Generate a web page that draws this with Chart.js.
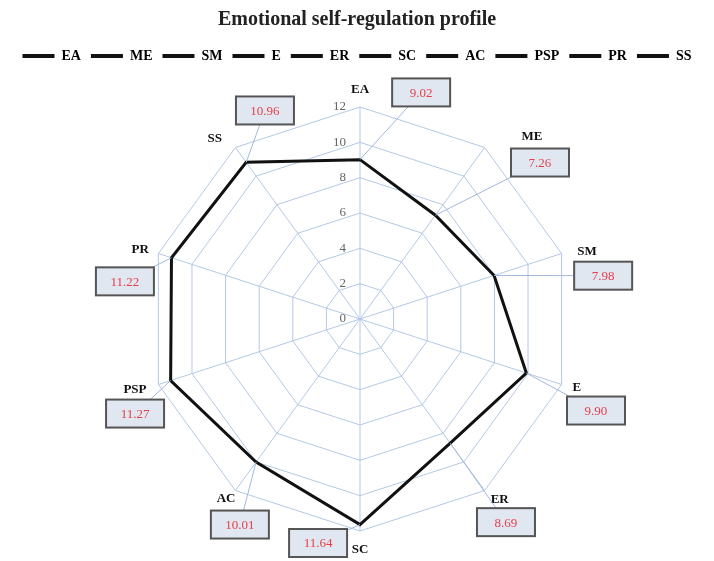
<!DOCTYPE html>
<html lang="en">
<head>
  <meta charset="UTF-8">
  <title>Emotional self-regulation profile</title>
  <script src="https://cdn.jsdelivr.net/npm/chart.js"></script>
  <style>
    body {
      margin: 0;
      padding: 0;
      background: #fff;
    }
  </style>
</head>
<body>
  <canvas id="profileChart" width="714" height="561"></canvas>

  <script>
    // Subscales and scores
    const categories = ["EA", "ME", "SM", "E", "ER", "SC", "AC", "PSP", "PR", "SS"];
    const scores = [9.02, 7.26, 7.98, 9.90, 8.69, 11.64, 10.01, 11.27, 11.22, 10.96];
    const tickValues = [0, 2, 4, 6, 8, 10, 12];

    const serif = "'Liberation Serif', 'DejaVu Serif', serif";
    const gridBlue = "#b3c8e6";

    // Axis names: angle tweak (deg) and distance relative to outer ring
    const nameAngle = [0, 7, 1, -1, -2, 0, 1, 1, 0, -2.5];
    const nameDist = [1.09, 1.19, 1.12, 1.07, 1.07, 1.08, 1.05, 1.11, 1.09, 1.10];
    // Value boxes: same idea
    const boxAngle = [15.1, 13, 7.9, 3.2, 0.3, 10.6, -5.7, -4.8, -8.9, 11.5];
    const boxDist = [1.107, 1.125, 1.165, 1.194, 1.18, 1.075, 1.123, 1.151, 1.123, 1.081];

    function polar(scale, i, tweakDeg, dist) {
      const a = scale.getIndexAngle(i) - Math.PI / 2 + tweakDeg * Math.PI / 180;
      const d = scale.drawingArea * dist;
      return { x: scale.xCenter + Math.cos(a) * d, y: scale.yCenter + Math.sin(a) * d };
    }

    const calloutPlugin = {
      id: "callouts",
      beforeDatasetsDraw(chart) {
        const scale = chart.scales.r;
        const ctx = chart.ctx;
        ctx.save();
        // tick labels sit left of the vertical axis
        ctx.font = "13px " + serif;
        ctx.fillStyle = "#666";
        ctx.textAlign = "right";
        ctx.textBaseline = "middle";
        tickValues.forEach((v) => {
          const d = scale.getDistanceFromCenterForValue(v);
          ctx.fillText(String(v), scale.xCenter - 14, scale.yCenter - d);
        });
        // axis names
        ctx.font = "bold 13px " + serif;
        ctx.fillStyle = "#111";
        ctx.textAlign = "center";
        categories.forEach((c, i) => {
          const p = polar(scale, i, nameAngle[i], nameDist[i]);
          ctx.fillText(c, p.x, p.y + 2);
        });
        ctx.restore();
      },
      afterDatasetsDraw(chart) {
        const scale = chart.scales.r;
        const ctx = chart.ctx;
        const meta = chart.getDatasetMeta(0);
        const w = 58, h = 28;
        ctx.save();
        scores.forEach((v, i) => {
          const pt = meta.data[i];
          const b = polar(scale, i, boxAngle[i], boxDist[i]);

          // leader line
          ctx.strokeStyle = "#9fb9dc";
          ctx.lineWidth = 1;
          ctx.beginPath();
          ctx.moveTo(pt.x, pt.y);
          ctx.lineTo(b.x, b.y);
          ctx.stroke();

          // box
          ctx.fillStyle = "#e1e7f0";
          ctx.fillRect(b.x - w / 2, b.y - h / 2, w, h);
          ctx.strokeStyle = "#555";
          ctx.lineWidth = 2;
          ctx.strokeRect(b.x - w / 2, b.y - h / 2, w, h);

          ctx.fillStyle = "#e5404b";
          ctx.font = "13px " + serif;
          ctx.textAlign = "center";
          ctx.textBaseline = "middle";
          ctx.fillText(v.toFixed(2), b.x, b.y + 1);
        });
        ctx.restore();
      }
    };

    const ctx = document.getElementById("profileChart").getContext("2d");
    const profileChart = new Chart(ctx, {
      type: "radar",
      data: {
        labels: categories,
        datasets: [{
          label: "Profile",
          data: scores,
          borderColor: "#111",
          borderWidth: 3,
          pointRadius: 0,
          fill: false
        }]
      },
      options: {
        responsive: false,
        animation: false,
        scales: {
          r: {
            min: 0,
            max: 12,
            // leave room around the web for names and value boxes
            afterFit: (scale) => {
              scale.drawingArea -= 32;
              scale.xCenter += 3;
              scale.yCenter += 2;
            },
            ticks: {
              stepSize: 2,
              display: false
            },
            grid: {
              color: gridBlue,
              lineWidth: 1
            },
            angleLines: {
              color: gridBlue,
              lineWidth: 1
            },
            pointLabels: {
              display: false
            }
          }
        },
        plugins: {
          title: {
            display: true,
            text: "Emotional self-regulation profile",
            color: "#222",
            font: { family: serif, size: 20, weight: "bold" },
            padding: { top: 8, bottom: 7 }
          },
          legend: {
            display: true,
            position: "top",
            onClick: null,
            labels: {
              boxWidth: 32,
              boxHeight: 4,
              padding: 10,
              color: "#111",
              font: { family: serif, size: 14, weight: "bold" },
              generateLabels: () => categories.map((c) => ({
                text: c,
                fillStyle: "#111",
                strokeStyle: "#111",
                lineWidth: 0,
                hidden: false,
                datasetIndex: 0
              }))
            }
          },
          tooltip: { enabled: false }
        }
      },
      plugins: [calloutPlugin]
    });
  </script>
</body>
</html>
